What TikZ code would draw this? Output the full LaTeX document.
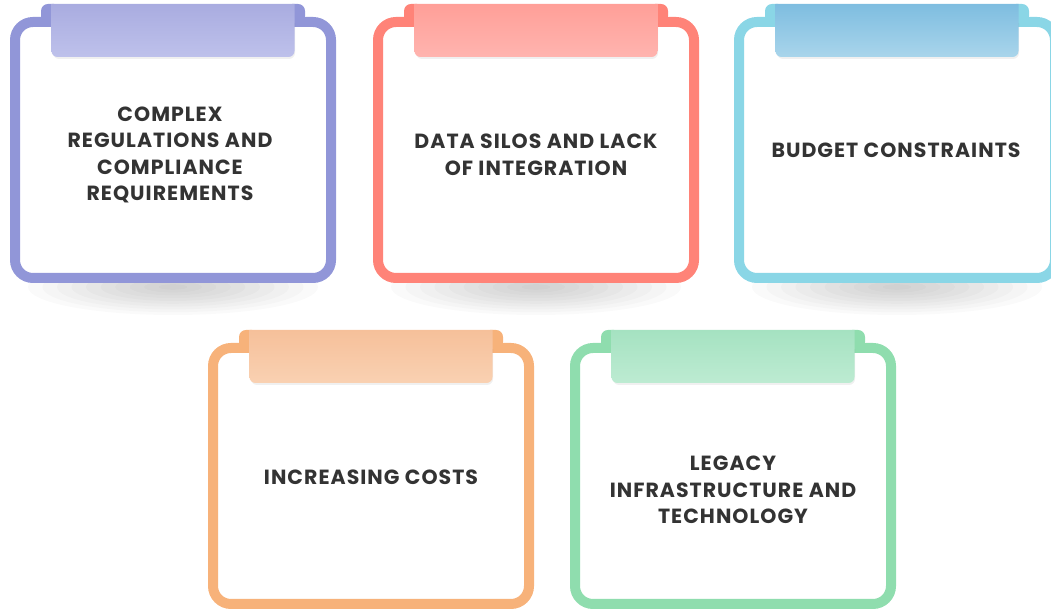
\documentclass[tikz,border=0pt]{standalone}
\usepackage{fontspec}
\setmainfont{Poppins}
\usetikzlibrary{positioning,backgrounds}

\definecolor{ink}{HTML}{333333}
\definecolor{puline}{HTML}{9196D8}
\definecolor{putop}{HTML}{A9ACE0}
\definecolor{pubot}{HTML}{BEC1EB}
\definecolor{rdline}{HTML}{FF8378}
\definecolor{rdtop}{HTML}{FF9F98}
\definecolor{rdbot}{HTML}{FFB4AF}
\definecolor{cyline}{HTML}{8AD6E6}
\definecolor{cytop}{HTML}{7EBDE0}
\definecolor{cybot}{HTML}{A9D5EB}
\definecolor{orline}{HTML}{F7B27A}
\definecolor{ortop}{HTML}{F6C09A}
\definecolor{orbot}{HTML}{F9D1B2}
\definecolor{grline}{HTML}{8FDDAE}
\definecolor{grtop}{HTML}{A5E2C1}
\definecolor{grbot}{HTML}{BDEBD2}

\tikzstyle{card} = [rectangle, draw, line width=10pt, rounded corners=18pt,
    fill=white, minimum width=316pt, minimum height=256pt, inner sep=0pt]
\tikzstyle{lbl} = [text=ink, align=center, inner sep=0pt,
    font=\bfseries\fontsize{20.5}{26.5}\selectfont\addfontfeatures{LetterSpace=5}]

\begin{document}
\begin{tikzpicture}[x=1pt,y=1pt]
  \useasboundingbox (0,0) rectangle (1051,609);

  \node[card,draw=puline] (regs)   at (173,459)         {};
  \node[card,draw=rdline] (silos)  [right=37pt of regs]  {};
  \node[card,draw=cyline] (budget) [right=35pt of silos] {};
  \node[card,draw=orline] (costs)  at (371,133)         {};
  \node[card,draw=grline] (legacy) [right=36pt of costs] {};

  % soft shadows under the cards
  \begin{scope}[on background layer]
    \foreach \n in {regs,silos,budget,costs,legacy}
      \foreach \i in {1,...,10}
        \fill[black,opacity=0.02] ([yshift=-4pt]\n.south)
          ellipse ({14.5*\i pt} and {2.8*\i pt});
  \end{scope}

  % paper tabs
  \foreach \n/\col in {regs/pu,silos/rd,budget/cy,costs/or,legacy/gr} {
    \fill[black,opacity=0.06,rounded corners=6pt]
      ([xshift=-120pt,yshift=10pt]\n.north) rectangle ([xshift=122pt,yshift=-42pt]\n.north);
    \fill[\col line]
      ([xshift=-119pt,yshift=-6pt]\n.north) [rounded corners=7pt]
      -- ++(-13pt,0) -- ++(0,19pt) [sharp corners] -- ++(13pt,0) -- cycle;
    \fill[\col line]
      ([xshift=119pt,yshift=-6pt]\n.north) [rounded corners=7pt]
      -- ++(13pt,0) -- ++(0,19pt) [sharp corners] -- ++(-13pt,0) -- cycle;
    \shade[top color=\col top, bottom color=\col bot]
      ([xshift=-121.5pt,yshift=13pt]\n.north) [rounded corners=6pt]
      -- ++(0,-53pt) -- ++(243pt,0) [sharp corners] -- ++(0,53pt) -- cycle;
  }

  \node[lbl] (regs-t)   at ([xshift=-3pt,yshift=-5pt]regs.center)
    {COMPLEX\\REGULATIONS AND\\COMPLIANCE\\REQUIREMENTS};
  \node[lbl] (silos-t)  at ([yshift=-5pt]silos.center)
    {DATA SILOS AND LACK\\OF INTEGRATION};
  \node[lbl] (budget-t) at ([xshift=-1pt]budget.center) {BUDGET CONSTRAINTS};
  \node[lbl] (costs-t)  at ([yshift=-1pt]costs.center) {INCREASING COSTS};
  \node[lbl] (legacy-t) at ([yshift=-14pt]legacy.center)
    {LEGACY\\INFRASTRUCTURE AND\\TECHNOLOGY};
\end{tikzpicture}
\end{document}
